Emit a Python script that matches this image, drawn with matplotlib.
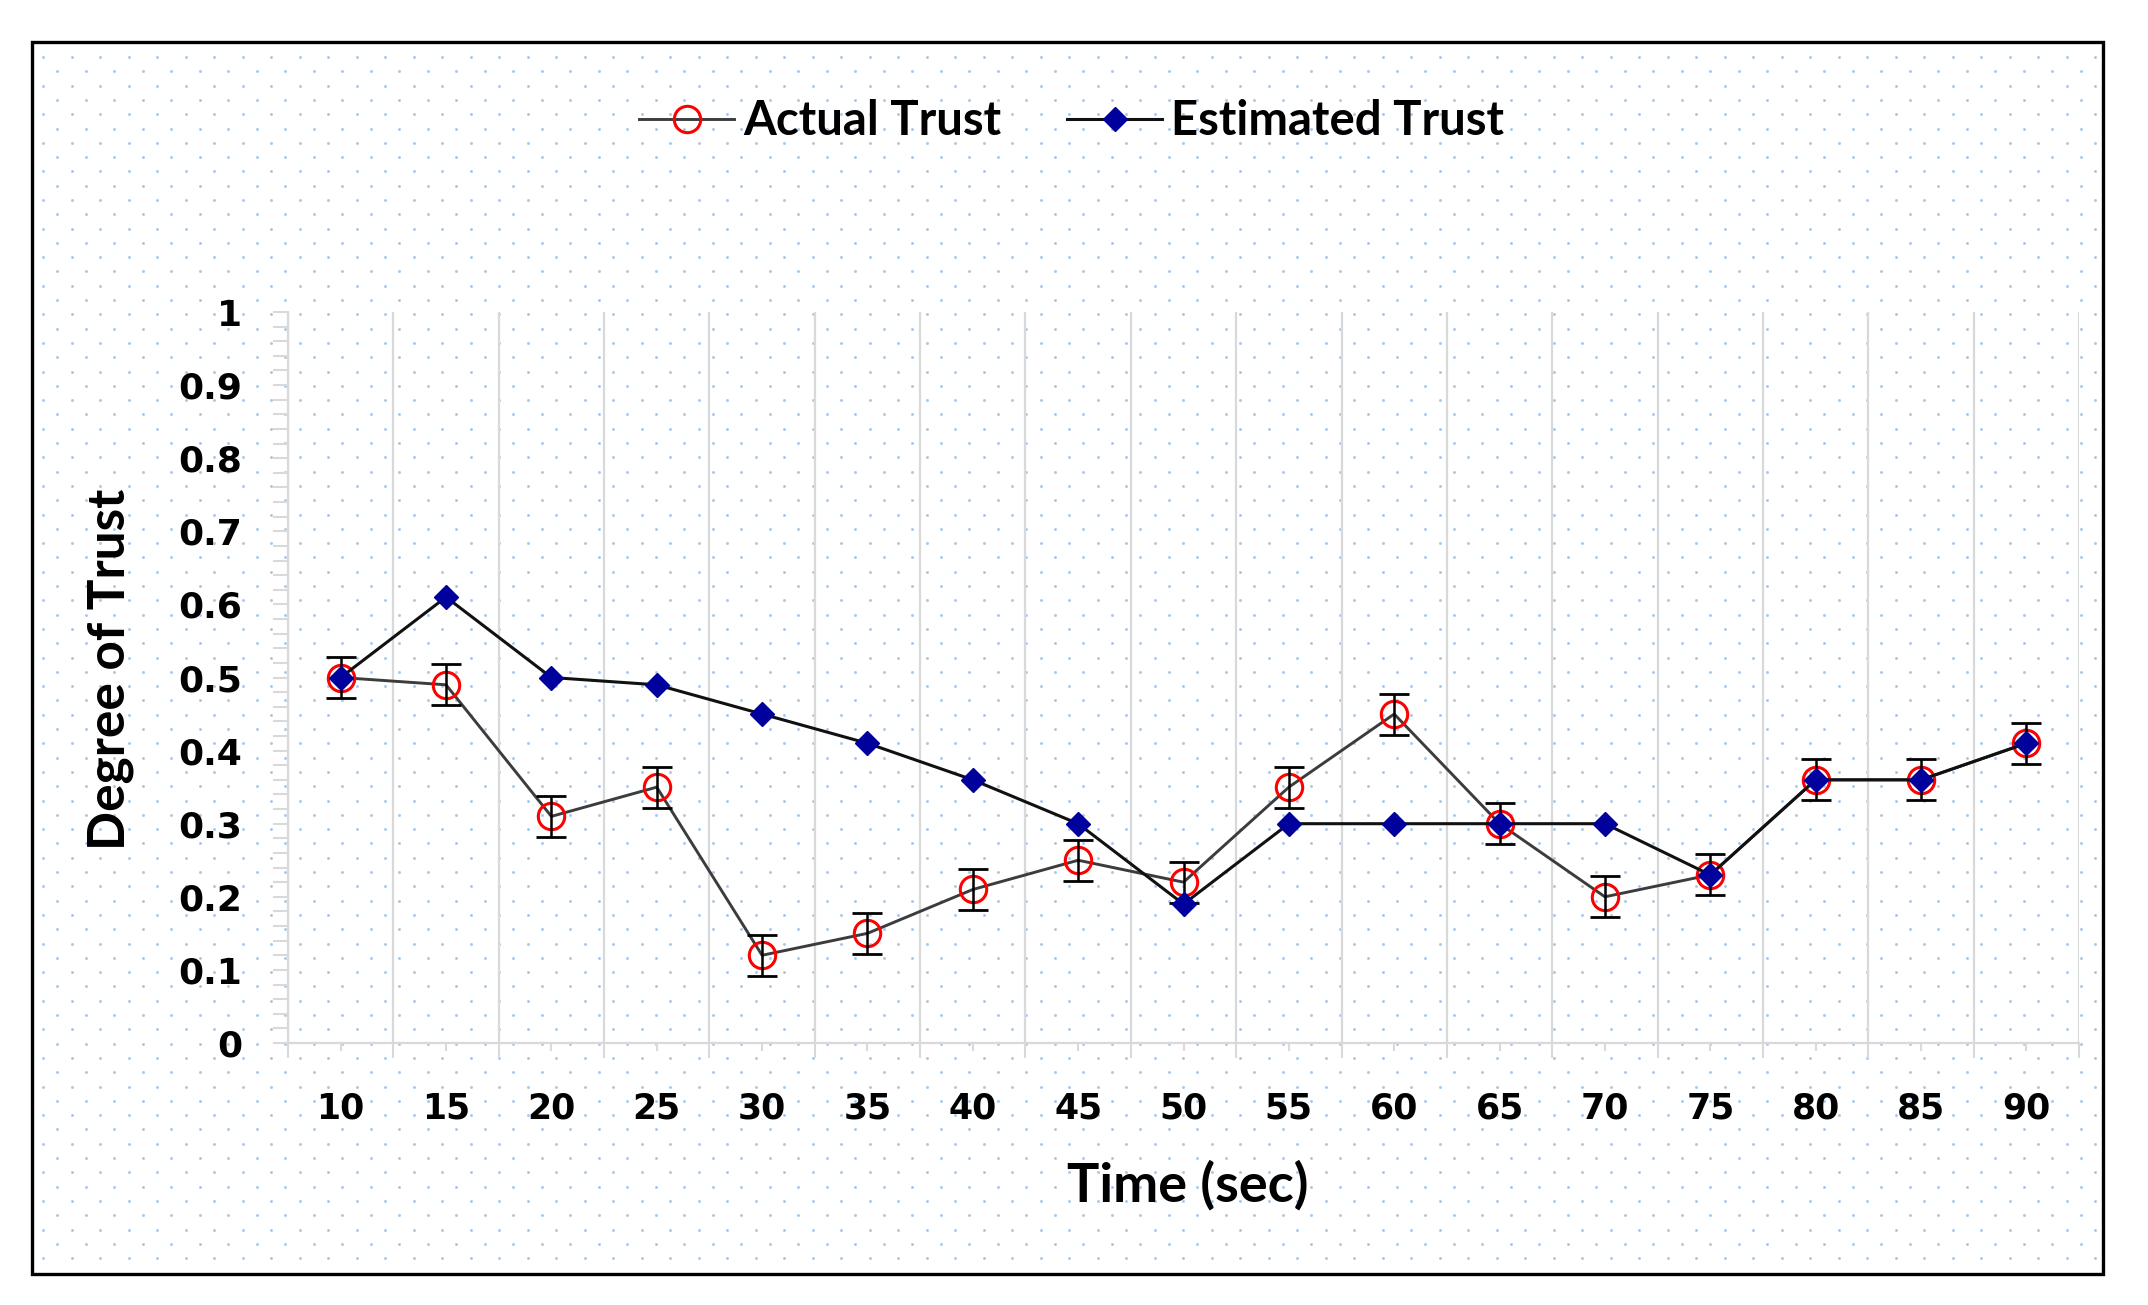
import numpy as np
import matplotlib
matplotlib.use('Agg')
import matplotlib.pyplot as plt
from matplotlib.patches import Rectangle
from matplotlib.ticker import MultipleLocator

# data
times = [10, 15, 20, 25, 30, 35, 40, 45, 50, 55, 60, 65, 70, 75, 80, 85, 90]
actual_trust = [0.50, 0.49, 0.31, 0.35, 0.12, 0.15, 0.21, 0.25, 0.22, 0.35,
                0.45, 0.30, 0.20, 0.23, 0.36, 0.36, 0.41]
actual_err = [0.028, 0.028, 0.028, 0.028, 0.028, 0.028, 0.028, 0.028, 0.028,
              0.028, 0.028, 0.028, 0.028, 0.028, 0.028, 0.028, 0.028]
estimated_trust = [0.50, 0.61, 0.50, 0.49, 0.45, 0.41, 0.36, 0.30, 0.19, 0.30,
                   0.30, 0.30, 0.30, 0.23, 0.36, 0.36, 0.41]
ytick_labels = ['0', '0.1', '0.2', '0.3', '0.4', '0.5', '0.6', '0.7', '0.8', '0.9', '1']

W, H = 2148, 1305
fig = plt.figure(figsize=(W / 100, H / 100), dpi=100)
fig.patch.set_facecolor('white')

# background with the staggered dot pattern and the outer border (pixel coords)
bg = fig.add_axes([0, 0, 1, 1], zorder=0)
bg.set_xlim(0, W)
bg.set_ylim(H, 0)
bg.axis('off')
dot_x, dot_y = [], []
for i, yy in enumerate(np.arange(57, 1270, 14.3)):
    xs = np.arange(43 + (14.25 if i % 2 else 0), 2100, 28.5)
    dot_x.extend(xs)
    dot_y.extend([yy] * len(xs))
bg.scatter(dot_x, dot_y, s=4.5, color='#a9c9ec', linewidths=0)
bg.add_patch(Rectangle((32, 42), 2071, 1232, fill=False, lw=2.4, ec='black'))

# main plot area
ax = fig.add_axes([288 / W, 1 - 1043 / H, 1791 / W, 731 / H], zorder=1)
ax.patch.set_visible(False)
x = np.arange(len(times))

grid_col = '#d9d9d9'
ax.set_xlim(-0.5, len(times) - 0.5)
ax.set_ylim(0, 1)
for s in ['top', 'right']:
    ax.spines[s].set_visible(False)
for s in ['left', 'bottom']:
    ax.spines[s].set_color(grid_col)
    ax.spines[s].set_linewidth(1.6)

ax.set_xticks(x)
ax.set_xticklabels([str(t) for t in times], fontweight='bold')
ax.set_xticks(np.arange(-0.5, len(times), 1), minor=True)
ax.grid(which='minor', axis='x', color=grid_col, lw=1.6)
ax.tick_params(axis='x', which='major', length=6, width=1.5, color=grid_col,
               pad=29, labelsize=25)
ax.tick_params(axis='x', which='minor', length=11, width=1.5, color=grid_col)

ax.set_yticks(np.arange(0, 1.01, 0.1))
ax.set_yticklabels(ytick_labels, fontweight='bold')
ax.yaxis.set_minor_locator(MultipleLocator(0.02))
ax.tick_params(axis='y', which='both', length=11, width=1.5, color=grid_col)
ax.tick_params(axis='y', which='major', pad=22, labelsize=26)

# series
l1, = ax.plot(x, actual_trust, color='#3c3c3c', lw=2.1, marker='o', ms=19,
              mfc='none', mec='red', mew=2.2, label='Actual Trust', zorder=3)
ax.errorbar(x, actual_trust, yerr=actual_err, fmt='none', ecolor='black',
            elinewidth=1.8, capsize=11, capthick=2.0, zorder=4)
l2, = ax.plot(x, estimated_trust, color='#111111', lw=2.2, marker='D', ms=12.5,
              mfc='#00009c', mec='#00009c', label='Estimated Trust', zorder=5)

fig.legend(handles=[l1, l2], loc='center', bbox_to_anchor=(0.499, 0.907), ncol=2,
           frameon=False, prop=dict(family='Lato', weight='bold', size=34),
           handlelength=2.0, handletextpad=0.2, columnspacing=1.4)

fig.text(1188 / W, 1 - 1185 / H, 'Time (sec)', ha='center', va='center',
         family='Lato', weight='bold', size=39)
fig.text(111 / W, 1 - 669 / H, 'Degree of Trust', ha='center', va='center',
         rotation=90, family='Lato', weight='bold', size=37)

fig.savefig('out.png', dpi=100)
